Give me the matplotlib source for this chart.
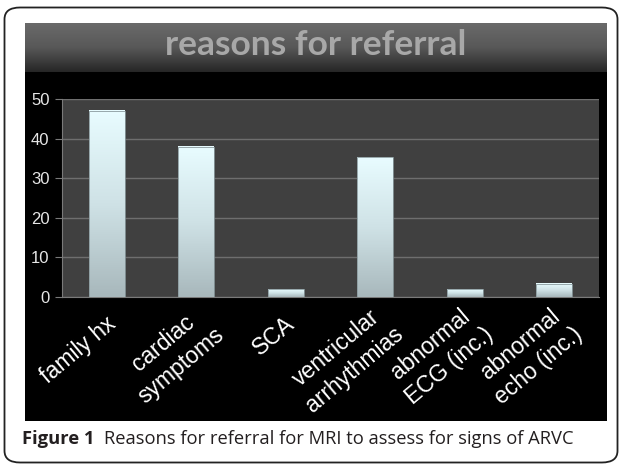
import numpy as np
import matplotlib.pyplot as plt
from matplotlib.colors import LinearSegmentedColormap
from matplotlib.patches import FancyBboxPatch, Rectangle
from matplotlib.transforms import ScaledTranslation, Bbox, TransformedBbox

categories = ["family hx", "cardiac\nsymptoms", "SCA", "ventricular\narrhythmias",
              "abnormal\nECG (inc.)", "abnormal\necho (inc.)"]
values = [47, 38, 2, 35.3, 2, 3.4]
yticks = [0, 10, 20, 30, 40, 50]

W, H = 622, 467
fig = plt.figure(figsize=(W / 100, H / 100), dpi=100)


def box(x0, y0, x1, y1):
    # pixel box (from top-left) -> figure fraction rect
    return [x0 / W, 1 - y1 / H, (x1 - x0) / W, (y1 - y0) / H]


# outer rounded frame
frame = FancyBboxPatch((4.5 / W, 1 - 462.5 / H), 613 / W, 455 / H,
                       boxstyle="round,pad=0,rounding_size=0.025",
                       transform=fig.transFigure, facecolor="white",
                       edgecolor="#222222", linewidth=1.3, zorder=-2)
fig.patches.append(frame)

# black chart panel
pb = box(25, 23, 607, 421)
fig.patches.append(Rectangle(pb[:2], pb[2], pb[3], transform=fig.transFigure,
                             facecolor="black", edgecolor="none", zorder=-1))
panel_clip = TransformedBbox(Bbox.from_bounds(*pb), fig.transFigure)

# title band with gradient
tax = fig.add_axes(box(25, 23, 607, 72))
band = LinearSegmentedColormap.from_list("band", ["#6a6a6a", "#585858", "#262626"])
tax.imshow(np.linspace(0, 1, 100).reshape(-1, 1), aspect="auto", cmap=band,
           extent=[0, 1, 0, 1])
tax.set_axis_off()
tax.text(0.5, 0.55, "reasons for referral", ha="center", va="center",
         color="#a8a8a8", fontsize=25.5, fontweight="bold", family="Lato",
         transform=tax.transAxes)

# main plot
ax = fig.add_axes(box(62, 99, 599, 297))
ax.set_facecolor("#404040")
x = np.arange(len(categories))
bars = ax.bar(x, values, width=0.4, color="none", edgecolor="none", zorder=3)
barmap = LinearSegmentedColormap.from_list("bar", ["#a8b8bc", "#cfe2e6", "#e8fcff"])
for b in bars:
    x0, w, h = b.get_x(), b.get_width(), b.get_height()
    # gradient from bar top to bottom
    ax.imshow(np.linspace(1, 0, 100).reshape(-1, 1),
              extent=[x0, x0 + w, 0, h], aspect="auto", cmap=barmap,
              vmin=0, vmax=1, zorder=3)
    ax.add_patch(Rectangle((x0, 0), w, h, facecolor="none",
                           edgecolor="#8a9a9e", linewidth=0.6, zorder=4))

ax.set_xlim(-0.5, len(categories) - 0.5)
ax.set_ylim(0, 50)
ax.set_aspect("auto")
ax.set_yticks(yticks)
ax.set_yticklabels([str(t) for t in yticks], color="#e6e6e6", fontsize=12,
                   family="Liberation Sans")
ax.grid(axis="y", color="#6e6e6e", linewidth=1, zorder=1)
ax.tick_params(axis="y", length=5, color="#7a7a7a", pad=4)
ax.tick_params(axis="x", length=0, pad=17)
for s in ["top", "right"]:
    ax.spines[s].set_visible(False)
ax.spines["left"].set_color("#7a7a7a")
ax.spines["bottom"].set_color("#7a7a7a")
ax.set_xticks(x)
ax.set_xticklabels(categories, rotation=40, ha="right", va="center",
                   rotation_mode="anchor", multialignment="center",
                   color="white", fontsize=16.5, family="Liberation Sans",
                   linespacing=1.3)
for lab in ax.get_xticklabels():
    # two-line labels sit a bit further right in the original
    dx = 16 if "\n" in lab.get_text() else 6
    lab.set_transform(lab.get_transform() + ScaledTranslation(dx / 100, 0, fig.dpi_scale_trans))
    lab.set_clip_box(panel_clip)
    lab.set_clip_on(True)

# caption
t1 = fig.text(22 / W, 1 - 444 / H, "Figure 1", fontsize=13.2, fontweight="bold",
              family="Open Sans", color="#231f20", va="baseline")
fig.canvas.draw()
x_end = t1.get_window_extent().x1
fig.text((x_end + 9) / W, 1 - 444 / H,
         "Reasons for referral for MRI to assess for signs of ARVC",
         fontsize=13.2, family="Open Sans", color="#231f20", va="baseline")

fig.savefig("out.png", dpi=100)
